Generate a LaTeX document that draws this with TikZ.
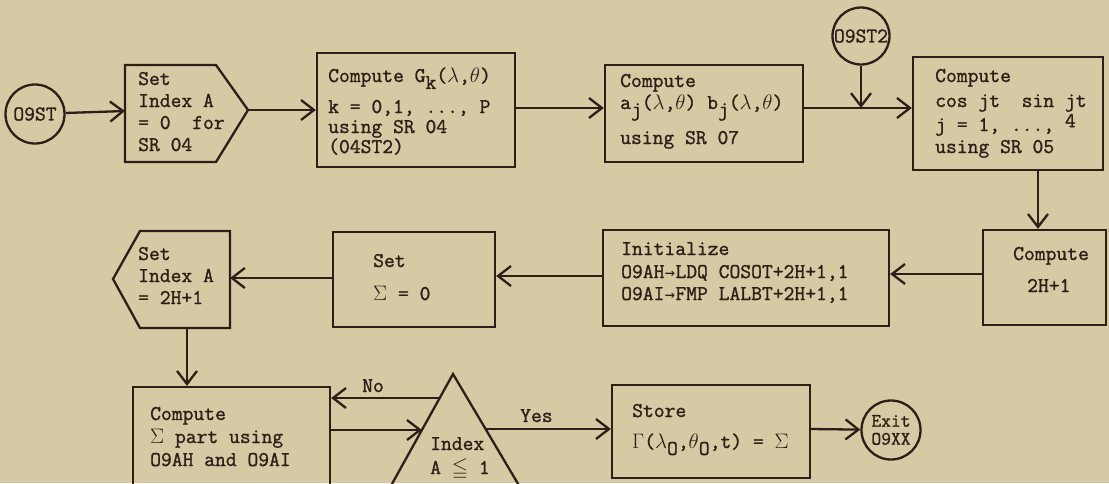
\documentclass[tikz,border=0pt]{standalone}
\usepackage{fix-cm}
\usepackage{fontspec}
\setmonofont{Latin Modern Mono}[FakeBold=1.2]
\newfontfamily\dvm{DejaVu Sans Mono}
\usepackage{amssymb}
\usepackage{graphicx}
\usetikzlibrary{arrows.meta}
\definecolor{paper}{HTML}{D8C9A5}
\definecolor{ink}{HTML}{2E1E17}
\newcommand\tx{\ttfamily\fontsize{21}{24}\selectfont}
\newcommand\dn[1]{\raisebox{-0.33em}{#1}}
\newcommand\upr[1]{\raisebox{0.18em}{#1}}
\newcommand\arw{\makebox[0.525em]{\dvm\fontsize{17}{17}\selectfont →}}
\tikzset{
  ln/.style={draw=ink, line width=2.3pt, line join=miter},
  box/.style={ln, rectangle, inner sep=0pt},
  circ/.style={ln, circle, inner sep=0pt, text=ink, font=\tx},
  arr/.style={ln, -{Straight Barb[length=13pt,width=20pt,line width=2.3pt]}},
  txt/.style={anchor=base west, inner sep=0pt, text=ink, font=\tx},
}
\begin{document}
\begin{tikzpicture}[x=1pt,y=-1pt]
\useasboundingbox (0,0) rectangle (1109,483);
\fill[paper] (0,0) rectangle (1109,483);
\clip (0,0) rectangle (1109,483);
% row coordinates
\coordinate (r1) at (0,108);
\coordinate (r2) at (0,274);
\coordinate (r3) at (0,276);
\coordinate (c2) at (1038,0);
% ---------- top row ----------
\node[circ, minimum size=59pt] (s09) at (35,114) {O9ST};
\draw[ln] (125,65) -- (216,65) -- (248,110) -- (216,162) -- (125,162) -- cycle;
\coordinate (p1w) at (125,111);
\coordinate (p1tip) at (248,110);
\node[txt] (a1) at (138,85) {Set};
\node[txt] (a2) at (138,107) {Index A};
\node[txt] (a3) at (138,129) {= 0\ \ for};
\node[txt] (a4) at (138,151) {SR 04};

\node[box, minimum width=198pt, minimum height=114pt] (G) at (416,110) {};
\node[txt] (g1) at (328,82) {Compute G\dn{k}($\lambda$,$\theta$)};
\node[txt] (g2) at (328,113) {k = 0,1, ..., P};
\node[txt] (g3) at (328,133) {using SR 04};
\node[txt] (g4) at (328,153) {(04ST2)};

\node[box, minimum width=198pt, minimum height=97pt] (aj) at (704,113.5) {};
\node[txt] (b1) at (620,87) {Compute};
\node[txt] (b2) at (620,109) {a\dn{j}($\lambda$,$\theta$) b\dn{j}($\lambda$,$\theta$)};
\node[txt] (b3) at (620,144) {using SR 07};

\node[circ, minimum size=57pt] (s09b) at (861,36) {O9ST2};

\node[box, minimum width=190pt, minimum height=113pt] (cs) at (1008,113.5) {};
\node[txt] (c1) at (935,82) {Compute};
\node[txt] (c3) at (935,107) {cos jt\ \ sin jt};
\node[txt] (c4) at (935,131) {j = 1, ..., \upr{4}};
\node[txt] (c5) at (935,153) {using SR 05};

% ---------- middle row ----------
\node[box, minimum width=123pt, minimum height=95pt] (h2) at (1044.5,277.5) {};
\node[txt] (d1) at (1013,260) {Compute};
\node[txt] (d2) at (1027,292) {2H+1};

\node[box, minimum width=286pt, minimum height=96pt] (init) at (746,278) {};
\node[txt] (e1) at (621,255) {Initialize};
\node[txt] (e2) at (621,278) {O9AH\arw LDQ COSOT+2H+1,1};
\node[txt] (e3) at (621,300) {O9AI\arw FMP LALBT+2H+1,1};

\node[box, minimum width=162pt, minimum height=95pt] (ss) at (414,279.5) {};
\node[txt] (f1) at (373,267) {Set};
\node[txt] (f2) at (373,300) {$\Sigma$ = 0};

\draw[ln] (140,231) -- (230,231) -- (230,328) -- (140,328) -- (113,279) -- cycle;
\coordinate (p2e) at (230,278);
\coordinate (p2s) at (187,328);
\node[txt] (h1) at (138,260) {Set};
\node[txt] (h2t) at (138,282) {Index A};
\node[txt] (h3) at (138,304) {= 2H+1};

% ---------- bottom row ----------
\node[box, minimum width=197pt, minimum height=110pt] (cp) at (231.5,442) {};
\node[txt] (k1) at (150,420) {Compute};
\node[txt] (k2) at (150,443) {$\Sigma$ part using};
\node[txt] (k3) at (150,466) {O9AH and O9AI};

\draw[ln] (388.6,490) -- (453,374) -- (521.7,490);
\coordinate (tNo) at (439.7,398);
\coordinate (tIn) at (421.9,430);
\coordinate (tYes) at (485.6,429);
\node[txt] (m1) at (430,450) {Index};
\node[txt] (m2) at (430,474) {A $\leqq$ 1};

\node[box, minimum width=198pt, minimum height=93pt] (st) at (711,431.5) {};
\node[txt] (n1) at (632,417) {Store};
\node[txt] (n2) at (632,448) {$\Gamma$($\lambda$\dn{O},$\theta$\dn{O},t) = $\Sigma$};

\node[circ, minimum size=59pt, align=center, font=\ttfamily\fontsize{19}{18}\selectfont] (ex) at (891,430) {Exit\\O9XX};

% ---------- connectors ----------
\draw[arr] (s09) -- (p1w);
\draw[arr] (p1tip) -- (G.west);
\draw[arr] (G.east |- r1) -- (aj.west |- r1);
\draw[arr] (aj.east |- r1) -- (cs.west |- r1);
\draw[arr] (s09b) -- (s09b |- r1);
\draw[arr] (cs.south -| c2) -- (h2.north -| c2);
\draw[arr] (h2.west |- r2) -- (init.east |- r2);
\draw[arr] (init.west |- r3) -- (ss.east |- r3);
\draw[arr] (ss.west |- p2e) -- (p2e);
\draw[arr] (p2s) -- (cp.north -| p2s);
\draw[arr] (tNo) -- (cp.east |- tNo);
\node[txt] (no) at (362,392) {No};
\draw[arr] (cp.east |- tIn) -- (tIn);
\draw[arr] (tYes) -- (st.west |- tYes);
\node[txt] (yes) at (520,422) {Yes};
\draw[arr] (st.east |- tYes) -- (ex);
\end{tikzpicture}
\end{document}
